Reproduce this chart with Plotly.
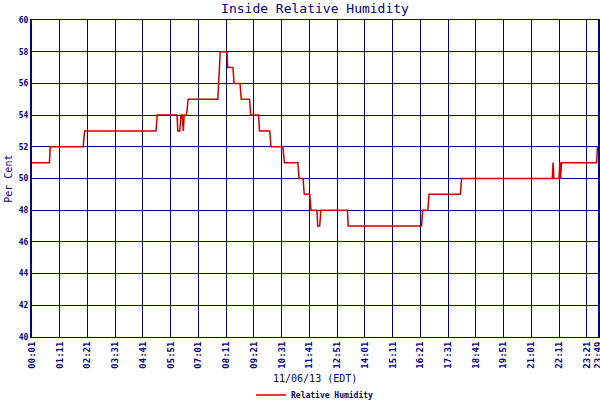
import plotly.graph_objects as go

# readings for 11/06/13, local time (EDT)
times = ["00:01", "00:45", "00:47", "02:10", "02:14", "05:14", "05:17", "06:07",
         "06:09", "06:14", "06:17", "06:20", "06:23", "06:25", "06:31", "06:35",
         "07:50", "07:53", "07:56", "08:13", "08:15", "08:28", "08:31", "08:46",
         "08:49", "09:10", "09:13", "09:33", "09:35", "10:01", "10:04", "10:34",
         "10:38", "11:12", "11:15", "11:25", "11:28", "11:42", "11:45", "12:00",
         "12:02", "12:07", "12:10", "13:17", "13:19", "16:24", "16:27", "16:40",
         "16:43", "18:02", "18:05", "21:54", "21:56", "21:58", "22:11", "22:13",
         "22:15", "22:17", "23:46", "23:48", "23:49"]
humidity = [51, 51, 52, 52, 53, 53, 54, 54,
            53, 53, 54, 54, 53, 54, 54, 55,
            55, 57, 58, 58, 57, 57, 56, 56,
            55, 55, 54, 54, 53, 53, 52, 52,
            51, 51, 50, 50, 49, 49, 48, 48,
            47, 47, 48, 48, 47, 47, 48, 48,
            49, 49, 50, 50, 51, 50, 50, 51,
            50, 51, 51, 52, 52]

tick_labels = ["00:01", "01:11", "02:21", "03:31", "04:41", "05:51", "07:01",
               "08:11", "09:21", "10:31", "11:41", "12:51", "14:01", "15:11",
               "16:21", "17:31", "18:41", "19:51", "21:01", "22:11", "23:21", "23:49"]

day = "2013-11-06 "
NAVY = "#000080"
MONO = "DejaVu Sans Mono"

fig = go.Figure(go.Scatter(
    x=[day + t for t in times], y=humidity,
    mode="lines", name="Relative Humidity",
    line=dict(color="#cc0000", width=1.5),
))

fig.update_layout(
    width=600, height=400,
    margin=dict(l=32, r=2, t=20, b=63),
    paper_bgcolor="white", plot_bgcolor="white",
    font=dict(family=MONO, color=NAVY),
    title=dict(text="Inside Relative Humidity", x=0.525, xanchor="center",
               y=0.978, yanchor="middle", font=dict(size=13, color=NAVY)),
    showlegend=True,
    legend=dict(orientation="h", x=0.5, xanchor="center",
                yref="container", y=0.0125, yanchor="middle",
                font=dict(size=8, color=NAVY, weight="bold"), itemwidth=30),
    annotations=[
        dict(text="11/06/13 (EDT)", xref="paper", yref="paper", x=0.5, y=-0.13,
             yanchor="middle", showarrow=False, font=dict(size=10, color=NAVY)),
        dict(text="Per Cent", xref="paper", yref="paper", x=-0.042, y=0.5,
             xanchor="center", textangle=-90, showarrow=False,
             font=dict(size=10, color=NAVY)),
    ],
)

fig.update_xaxes(
    type="date",
    range=[day + "00:01", day + "23:49:20"],
    tickvals=[day + t for t in tick_labels], ticktext=tick_labels,
    tickangle=-90, tickfont=dict(size=9, color=NAVY, weight="bold"),
    ticklabeloverflow="allow",
    showgrid=True, gridcolor=NAVY, gridwidth=1,
    showline=True, linecolor=NAVY, linewidth=1, mirror=True,
    ticks="", automargin=False,
)
fig.update_yaxes(
    range=[40, 60], dtick=2,
    tickfont=dict(size=8, color=NAVY, weight="bold"),
    showgrid=True, gridcolor=NAVY, gridwidth=1,
    showline=True, linecolor=NAVY, linewidth=2, mirror=True,
    zeroline=False, ticks="", automargin=False,
)

# page body has a default 8px margin; drop it so the 600x400 figure fills the window
fig.write_html("out.html", config={"displayModeBar": False},
               post_script="document.body.style.margin='0';")
